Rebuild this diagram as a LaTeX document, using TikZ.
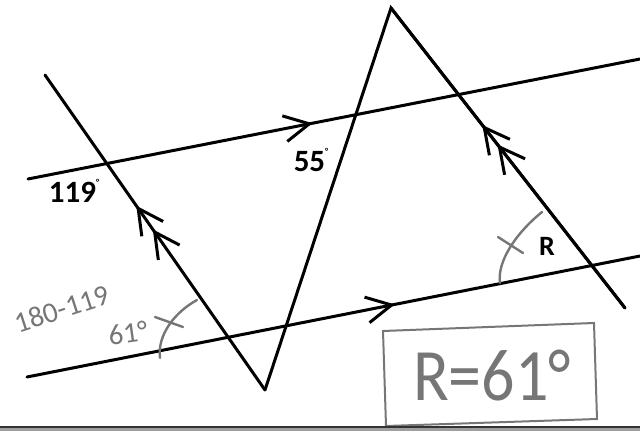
\documentclass[tikz,border=0pt]{standalone}
\usepackage{fontspec}
\setmainfont{Carlito}
\usepackage{xcolor}
\usetikzlibrary{arrows.meta,decorations.markings}

\definecolor{graphite}{RGB}{118,118,118}
\tikzset{
  ink/.style={line width=3pt, line cap=round},
  chev/.tip={Straight Barb[length=25pt,width=26pt]},
  onemark/.style={postaction={decorate},
    decoration={markings, mark=at position #1 with {\arrow{chev}}}},
  twomark/.style 2 args={postaction={decorate},
    decoration={markings, mark=at position #1 with {\arrow{chev}},
                mark=at position #2 with {\arrow{chev}}}},
  lbl/.style={font=\fontsize{31}{32}\selectfont\bfseries, inner sep=0pt},
  pencil/.style={draw=graphite, line width=2.4pt, line cap=round},
  scrawl/.style={text=graphite, font=\fontsize{29}{30}\selectfont, inner sep=0pt}
}
\newcommand{\dg}{\raisebox{0.55em}{\fontsize{9}{9}\selectfont °}}

\begin{document}
\begin{tikzpicture}[x=1pt,y=-1pt]
        \useasboundingbox (0,0) rectangle (640,431);
        % points of the figure
        \coordinate (ul) at (28,179);
        \coordinate (ur) at (640,59);
        \coordinate (ll) at (27,377);
        \coordinate (lr) at (640,256);
        \coordinate (lt) at (45,75);
        \coordinate (vb) at (265,390);
        \coordinate (vt) at (391,8);
        \coordinate (re) at (625,308);
        % the two parallel lines
        \draw[ink, onemark=0.465] (ul) -- (ur);
        \draw[ink, onemark=0.6] (ll) -- (lr);
        % the zig-zag
        \draw[ink, twomark={0.51}{0.585}] (vb) -- (lt);
        \draw[ink] (vb) -- (vt) -- (re);
        \draw[ink, twomark={0.545}{0.61}] (re) -- (vt);
        % printed angles
        \node[lbl] (a119) at (74,191) {119\dg};
        \node[lbl] (a55) at (311,160) {55\dg};
        \node[lbl, font=\fontsize{28}{29}\selectfont\bfseries] (angR) at (547,246) {R};
        % pencil work
        \draw[pencil] (160,358) .. controls (157,335) and (175,312) .. (197,300);
        \draw[pencil] (155,317) -- (183,327);
        \draw[pencil] (500,283) .. controls (497,262) and (515,234) .. (542,212);
        \draw[pencil] (498,237) -- (523,253);
        \node[scrawl, rotate=18] (calc) at (62,309) {180-119};
        \node[scrawl, rotate=8] (res) at (128,333) {61°};
        \draw[pencil, line width=2pt] (383,331) -- (594,323) -- (597,419) -- (386,426) -- cycle;
        \node[scrawl, font=\fontsize{66}{68}\selectfont, yscale=1.12] (ans) at (492,376) {R=61°};
        % rule at the bottom
        \fill[gray!75] (0,427) rectangle (640,431);
        \draw[black!80, line width=1.2pt] (0,427) -- (640,427);
    \end{tikzpicture}
\end{document}
